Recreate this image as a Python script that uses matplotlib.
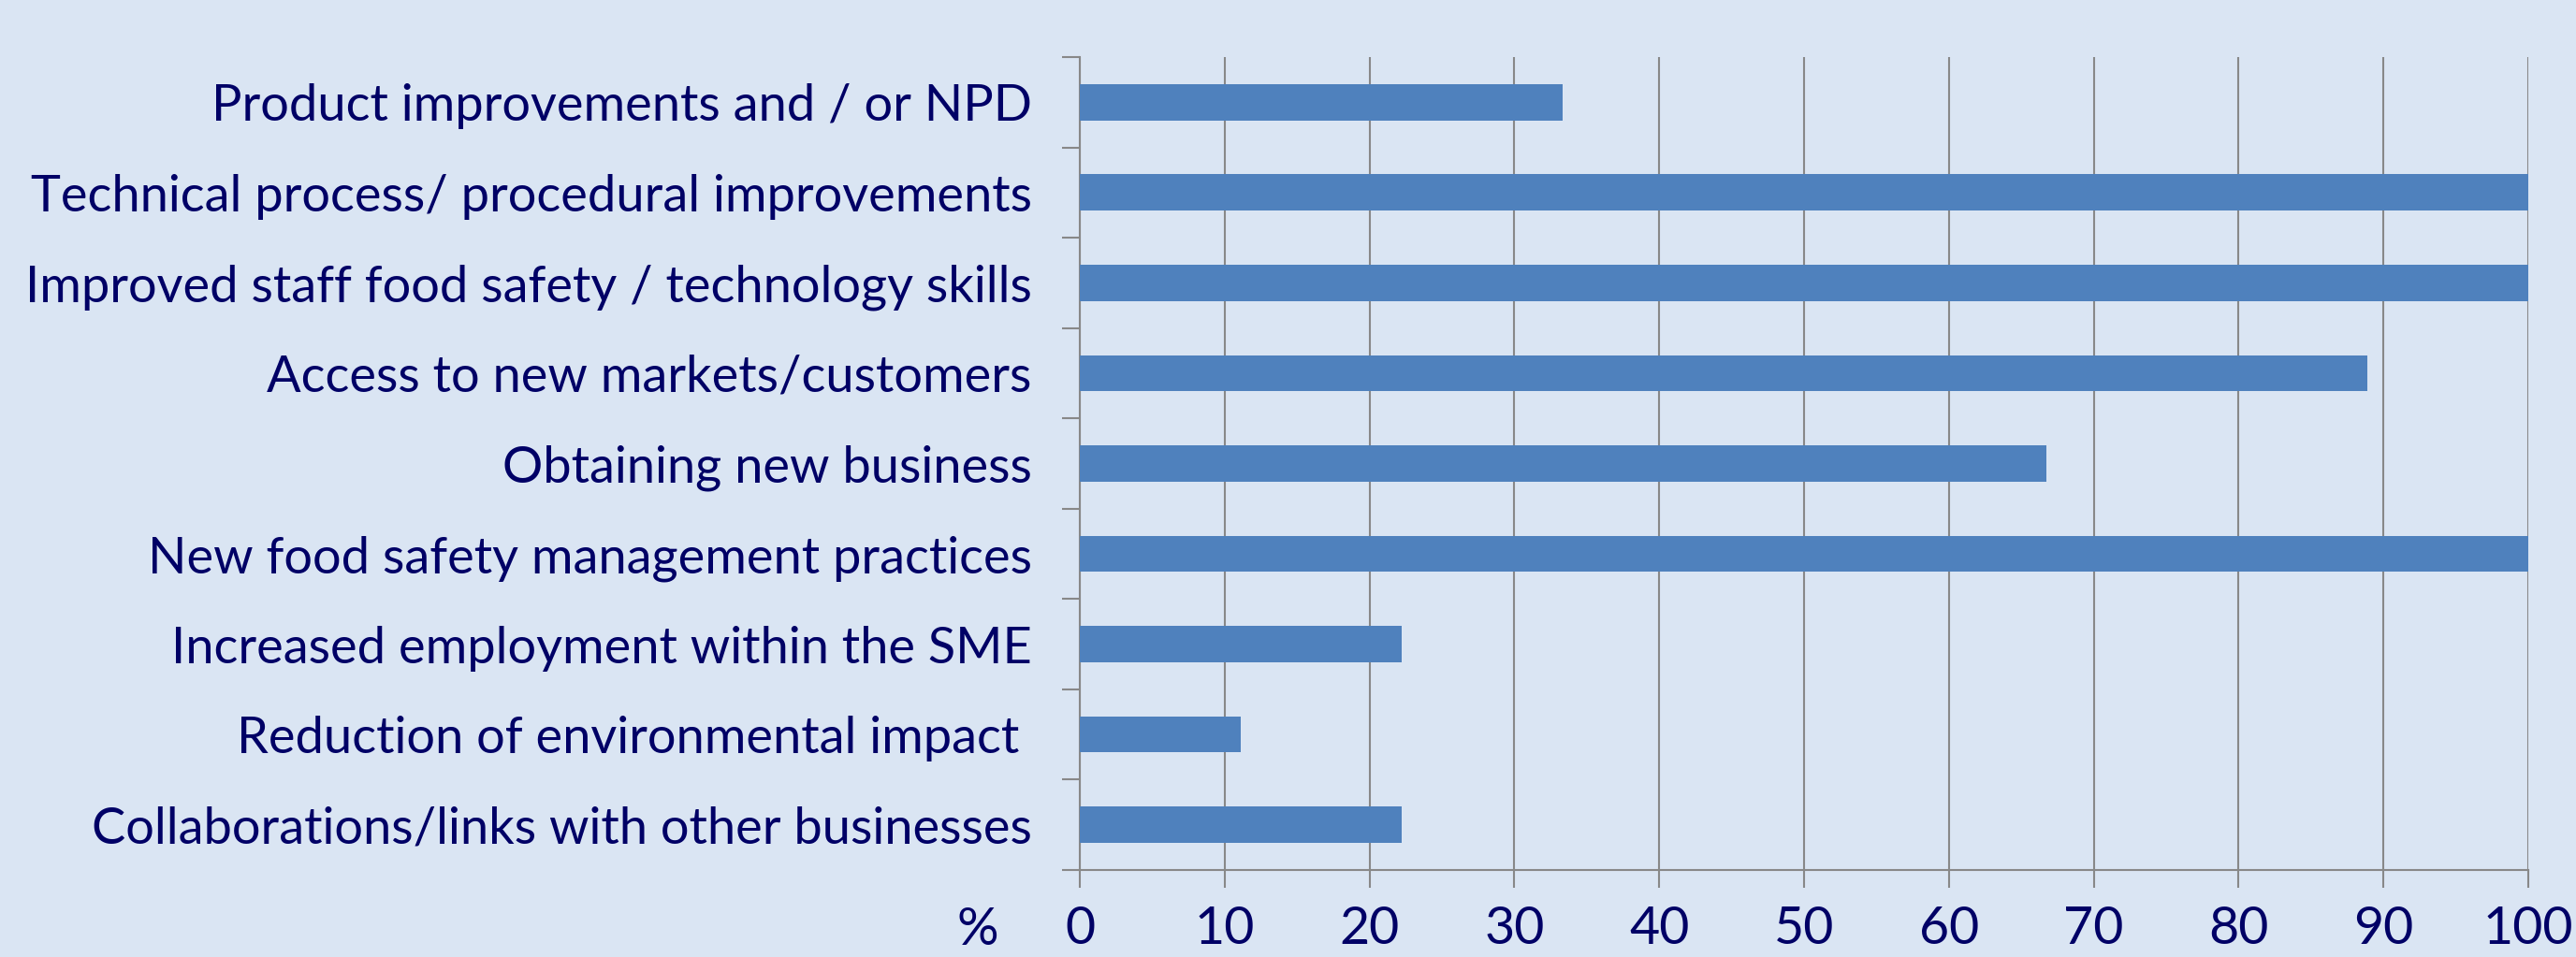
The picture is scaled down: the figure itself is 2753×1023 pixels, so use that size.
import matplotlib
matplotlib.use("Agg")
import matplotlib.pyplot as plt
import numpy as np

# Categories (top to bottom) and percentage values
categories = [
    "Product improvements and / or NPD",
    "Technical process/ procedural improvements",
    "Improved staff food safety / technology skills",
    "Access to new markets/customers",
    "Obtaining new business",
    "New food safety management practices",
    "Increased employment within the SME",
    "Reduction of environmental impact ",
    "Collaborations/links with other businesses",
]
values = [33.3, 100, 100, 88.9, 66.7, 100, 22.2, 11.1, 22.2]
x_ticks = [0, 10, 20, 30, 40, 50, 60, 70, 80, 90, 100]

bg = "#DAE5F3"
bar_color = "#4F81BD"
text_color = "#000066"
grid_color = "#888888"

plt.rcParams["font.family"] = ["Lato", "DejaVu Sans"]

fig = plt.figure(figsize=(27.53, 10.23), dpi=100, facecolor=bg)
ax = fig.add_axes([0.4192, 0.0909, 0.5623, 0.8495], facecolor=bg)

y = np.arange(len(categories))
ax.barh(y, values, height=0.4, color=bar_color, zorder=3)

ax.set_xlim(0, 100)
ax.set_ylim(len(categories) - 0.5, -0.5)

# x axis
ax.set_xticks(x_ticks)
ax.set_xticklabels([str(t) for t in x_ticks])
ax.tick_params(axis="x", direction="out", length=13.5, width=1.5, color=grid_color,
               labelsize=40, labelcolor=text_color, pad=14)
ax.grid(axis="x", color=grid_color, linewidth=1.5, zorder=0)
ax.set_axisbelow(True)

# y axis: labels at centres, ticks at boundaries
ax.set_yticks(y)
ax.set_yticklabels(categories)
ax.set_yticks(np.arange(len(categories) + 1) - 0.5, minor=True)
ax.tick_params(axis="y", which="major", length=0, labelsize=39,
               labelcolor=text_color, pad=37)
ax.tick_params(axis="y", which="minor", direction="out", length=13.5,
               width=1.5, color=grid_color)

for side in ["top", "right"]:
    ax.spines[side].set_visible(False)
for side in ["left", "bottom"]:
    ax.spines[side].set_color(grid_color)
    ax.spines[side].set_linewidth(1.5)

# "%" label at left of the x tick labels
fig.text(1045 / 2753, 1 - 994 / 1023, "%", fontsize=40, color=text_color,
         ha="center", va="center")

fig.savefig("out.png", dpi=100, facecolor=bg)
